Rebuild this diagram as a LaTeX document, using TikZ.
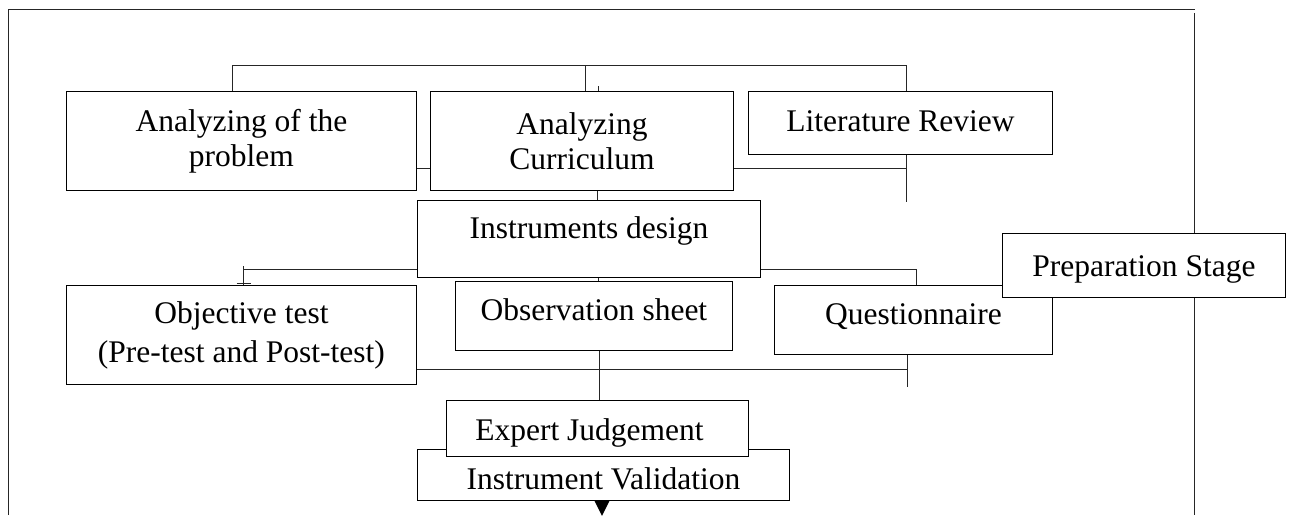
\documentclass[tikz,border=0pt]{standalone}
\usepackage{fontspec}
\setmainfont{Liberation Serif}
\begin{document}
\begin{tikzpicture}[x=1pt,y=-1pt,
  box/.style={draw=black, fill=white, line width=0.9pt, inner sep=0pt, anchor=north west,
              font=\fontsize{31.5}{35}\selectfont, align=center},
  conn/.style={draw=black!85, line width=0.9pt}]
\useasboundingbox (0,0) rectangle (1294,515);

% boxes
\node[box, minimum width=350pt, minimum height=99pt] (b1) at (66,91) {Analyzing of the\\problem};
\node[box, minimum width=303pt, minimum height=99pt] (b2) at (430,91) {Analyzing\\Curriculum};
\node[box, minimum width=304pt, text height=40pt, text depth=23pt] (lit) at (748,91) {Literature Review};
\node[box, minimum width=343pt, text height=38pt, text depth=39pt] (inst) at (417,200) {Instruments design};
\node[box, minimum width=350pt, minimum height=99pt] (obj) at (66,285) {Objective test\\[4pt](Pre-test and Post-test)};
\node[box, minimum width=277pt, text height=39pt, text depth=30pt] (obs) at (455,281) {Observation sheet};
\node[box, minimum width=278pt, text height=39pt, text depth=30pt] (q) at (774,285) {Questionnaire};
\node[box, minimum width=283pt, text height=43pt, text depth=21pt] (prep) at (1002,233) {Preparation Stage};
\node[box, minimum width=372pt, text height=40pt, text depth=11pt] (val) at (417,449) {Instrument Validation};
\node[box, minimum width=302pt, text height=40pt, text depth=16pt] (ej) at (446,400) {\hspace*{-16pt}Expert Judgement};

% top connectors
\coordinate (tl) at (232,65);
\coordinate (tm) at (585,65);
\coordinate (tr) at (906,65);
\draw[conn] (tl) -- (tr);
\draw[conn] (tl) -- (tl |- b1.north);
\draw[conn] (tm) -- (tm |- b2.north);
\draw[conn] (tr) -- (tr |- lit.north);
\coordinate (tick) at (598,86);
\draw[conn] (tick) -- (tick |- b2.north);

% middle row connectors
\coordinate (m1) at (0,168);
\draw[conn] (b1.east |- m1) -- (b2.west |- m1);
\coordinate (r1) at (906,168);
\coordinate (r1e) at (906,202);
\draw[conn] (b2.east |- r1) -- (r1);
\draw[conn] (r1 |- lit.south) -- (r1e);
\coordinate (c1) at (597,0);
\draw[conn] (c1 |- b2.south) -- (c1 |- inst.north);

% instruments design branches
\coordinate (il) at (243,269);
\coordinate (ilt) at (243,266);
\draw[conn] (inst.west |- il) -- (il);
\draw[conn] (ilt) -- (ilt |- obj.north);
\draw[conn] ([xshift=-6.5pt,yshift=1.5pt]ilt |- obj.north) -- ([xshift=8pt,yshift=1.5pt]ilt |- obj.north);
\coordinate (ir) at (916,269);
\draw[conn] (inst.east |- ir) -- (ir) -- (ir |- q.north);
\coordinate (c2) at (598,0);
\draw[conn] (c2 |- inst.south) -- (c2 |- obs.north);
\coordinate (c3) at (599,0);
\draw[conn] (c3 |- obs.south) -- (c3 |- ej.north);

% lower connector
\coordinate (lr) at (907,369);
\coordinate (lre) at (907,387);
\draw[conn] (obj.east |- lr) -- (lr);
\draw[conn] (lr |- q.south) -- (lre);

% frame
\coordinate (f1) at (8,515);
\coordinate (f2) at (8,9);
\coordinate (f3) at (1195,9);
\coordinate (f4) at (1194,13);
\coordinate (f5) at (1194,515);
\draw[conn] (f1) -- (f2) -- (f3);
\draw[conn] (f4) -- (f4 |- prep.north);
\draw[conn] (f5 |- prep.south) -- (f5);

% arrow head
\coordinate (ar) at (602,0);
\fill[black] (ar |- val.south) ++(-7.5,0) -- ++(15,0) -- ++(-7.5,15) -- cycle;
\end{tikzpicture}
\end{document}
